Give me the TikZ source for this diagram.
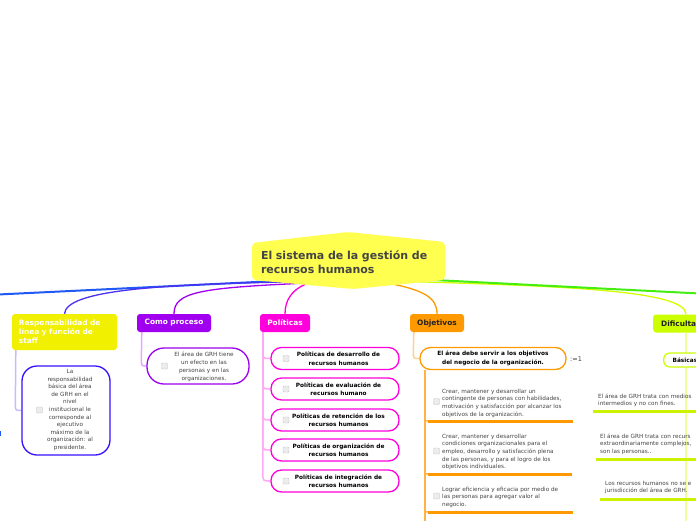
\documentclass[tikz,border=0pt]{standalone}
\usepackage{fontspec}
\setmainfont{DejaVu Sans}
\usetikzlibrary{calc}
\pgfdeclarelayer{back}
\pgfdeclarelayer{mid}
\pgfsetlayers{back,mid,main}
\definecolor{rootY}{HTML}{FFFF50}
\definecolor{rootT}{HTML}{444444}
\definecolor{txt}{HTML}{444444}
\definecolor{darkT}{HTML}{222222}
\definecolor{respY}{HTML}{F0F000}
\definecolor{respB}{HTML}{3A10FF}
\definecolor{respConn}{HTML}{C4BCFF}
\definecolor{blueL}{HTML}{2059F5}
\definecolor{bvL}{HTML}{4A30F0}
\definecolor{procP}{HTML}{A100F0}
\definecolor{procB}{HTML}{9C00EE}
\definecolor{procConn}{HTML}{E2AAFF}
\definecolor{polM}{HTML}{FF00DD}
\definecolor{polConn}{HTML}{FFAAF2}
\definecolor{objO}{HTML}{FF9900}
\definecolor{objConn}{HTML}{FFD090}
\definecolor{objV}{HTML}{FFB347}
\definecolor{difG}{HTML}{CCFF00}
\definecolor{difU}{HTML}{CCF200}
\definecolor{difConn}{HTML}{EEFF99}
\definecolor{greenL}{HTML}{44EE11}
\tikzset{
  lone/.style={rounded corners=3pt, inner sep=0pt, minimum height=18pt, font=\fontsize{7.4}{9}\selectfont\bfseries},
  pill/.style={draw, fill=white, line width=1.3pt, inner sep=0pt, minimum height=22pt, rounded corners=10.5pt},
  btext/.style={inner sep=0pt, align=center, font=\fontsize{5.8}{8.5}\selectfont\bfseries, text=black},
  stext/.style={inner sep=0pt, align=center, font=\fontsize{5.7}{8}\selectfont, text=txt},
  ltext/.style={inner sep=0pt, align=left, anchor=north west, font=\fontsize{5.7}{7.7}\selectfont, text=txt},
  chk/.style={draw=gray!45, fill=gray!15, rounded corners=1pt, minimum size=6pt, inner sep=0pt, line width=0.4pt},
  conn/.style={line width=1.3pt},
  uline/.style={line width=3pt},
}
\begin{document}
\begin{tikzpicture}[x=1pt,y=-1pt]
\useasboundingbox (0,0) rectangle (696,520);
\begin{scope}
\clip (0,0) rectangle (696,520);
% ---------- root
\node[font=\fontsize{11}{14}\selectfont\bfseries, text=rootT, align=left, text width=175pt, inner xsep=9pt, inner ysep=0pt, minimum height=37pt] (root) at (348.5,262) {El sistema de la gestión de\\recursos humanos};
% ---------- level one
\node[lone, fill=respY, text=white, minimum width=105pt, minimum height=36pt, text width=91pt, align=left] (resp) at (64.5,332) {Responsabilidad de\\línea y función de\\staff};
\node[lone, fill=procP, text=white, minimum width=74pt] (proc) at (174,323) {Como proceso};
\node[lone, fill=polM, text=white, minimum width=50pt] (pol) at (285,323) {Políticas};
\node[lone, fill=objO, text=darkT, minimum width=54pt] (obj) at (437,323) {Objetivos};
\node[lone, fill=difG, text=darkT, anchor=west, align=left, text width=74pt, inner xsep=8pt, minimum width=90pt] (dif) at (653,323.5) {Dificulta};
% ---------- responsabilidad child
\node[draw=respB, line width=1.3pt, fill=white, rounded corners=15pt, minimum width=88pt, minimum height=89pt, inner sep=0pt] (respc) at (66,410.5) {};
\node[stext, font=\fontsize{5.7}{7.6}\selectfont] (respct) at (70,410) {La\\responsabilidad\\básica del área\\de GRH en el\\nivel\\institucional le\\corresponde al\\ejecutivo\\máximo de la\\organización: al\\presidente.};
\node[chk] (respck) at (39.5,410) {};
% ---------- como proceso child
\node[draw=procB, line width=1.3pt, fill=white, rounded corners=17pt, minimum width=102pt, minimum height=36pt, inner sep=0pt] (procc) at (198,366) {};
\node[stext] (procct) at (204,366.5) {El área de GRH tiene\\un efecto en las\\personas y en las\\organizaciones.};
\node[chk] (procck) at (164.5,366) {};
% ---------- politicas children
\foreach \i/\cy/\t in {1/358.5/{Políticas de desarrollo de\\recursos humanos},
                       2/389/{Políticas de evaluación de\\recursos humano},
                       3/420/{Políticas de retención de los\\recursos humanos},
                       4/450/{Políticas de organización de\\recursos humanos},
                       5/481/{Políticas de integración de\\recursos humanos}}{
  \node[pill, draw=polM, minimum width=128pt] (p\i) at (335,\cy) {};
  \node[btext] (p\i t) at (338.5,\cy) {\t};
  \node[chk] (p\i c) at (286,\cy) {};
}
% ---------- objetivos
\node[pill, draw=objO, minimum width=146pt, btext] (obj1) at (493,358.5) {El área debe servir a los objetivos\\del negocio de la organización.};
\node[font=\fontsize{6.5}{8}\selectfont, text=txt, anchor=west, inner sep=0pt] (objlab) at (570,359) {:=1};
\node[ltext] (oi1) at (442,388.5) {Crear, mantener y desarrollar un\\contingente de personas con habilidades,\\motivación y satisfacción por alcanzar los\\objetivos de la organización.};
\node[chk] (oi1c) at (436.5,401.5) {};
\node[ltext] (oi2) at (442,433.5) {Crear, mantener y desarrollar\\condiciones organizacionales para el\\empleo, desarrollo y satisfacción plena\\de las personas, y para el logro de los\\objetivos individuales.};
\node[chk] (oi2c) at (436.5,451) {};
\node[ltext] (oi3) at (442,486.5) {Lograr eficiencia y eficacia por medio de\\las personas para agregar valor al\\negocio.};
\node[chk] (oi3c) at (436.5,496) {};
\coordinate (oi1u) at (428,421); \coordinate (oi1e) at (573,421);
\coordinate (oi2u) at (428,474); \coordinate (oi2e) at (572,474);
\coordinate (oi3u) at (428,512); \coordinate (oi3e) at (573,512);
\coordinate (ovtop) at (425,369.5); \coordinate (ovbot) at (425,525);
% ---------- dificultades
\node[pill, draw=difG, minimum height=14pt, rounded corners=6.5pt, anchor=west, align=left, text width=32pt, inner xsep=9pt, font=\fontsize{5.8}{8}\selectfont\bfseries, text=black] (bas) at (663,360) {Básicas};
\node[ltext] (di1) at (598,393.5) {El área de GRH trata con medios\\intermedios y no con fines.};
\node[ltext] (di2) at (600,433.5) {El área de GRH trata con recurs\\extraordinariamente complejos,\\son las personas..};
\node[ltext] (di3) at (605,480.5) {Los recursos humanos no se e\\jurisdicción del área de GRH.};
\coordinate (di1u) at (593,411); \coordinate (di1e) at (700,411);
\coordinate (di2u) at (596,459); \coordinate (di2e) at (700,459);
\coordinate (di3u) at (600,499); \coordinate (di3e) at (700,499);
\coordinate (dvtop) at (686,333); \coordinate (dvbot) at (686,525);
\coordinate (lefte) at (-2,294.5);
\coordinate (righte) at (700,293.5);
\coordinate (leftfrag) at (0,431); \coordinate (leftfrag2) at (0,436);
\end{scope}
% ---------- root shape
\begin{pgfonlayer}{mid}
\fill[rootY, rounded corners=4pt] (252,243) -- (348,232) -- (445,242) -- (445,280) -- (353,289) -- (252,280) -- cycle;
\end{pgfonlayer}
% ---------- connectors
\begin{pgfonlayer}{back}
\clip (0,0) rectangle (696,520);
\draw[blueL, line width=2pt] ($(root.south)+(-45,-1)$) -- (lefte);
\draw[bvL, conn] ($(root.south)+(-45,1)$) .. controls (160,284) and (66,290) .. (resp.north);
\draw[procP, conn] ($(root.south)+(-45,2.5)$) .. controls (200,288) and (174,292) .. (proc.north);
\draw[polM, conn] ($(root.south)+(-43,3.5)$) .. controls (292,290) and (285,300) .. (pol.north);
\draw[objO, conn] ($(root.south)+(37,2)$) .. controls (425,290) and (437,298) .. (obj.north);
\draw[difG!85!yellow, conn] ($(root.south)+(50,0.5)$) .. controls (560,286) and (686,290) .. ($(dif.north west)+(33,0)$);
\draw[greenL, line width=2pt] ($(root.south)+(70,-1.5)$) -- (righte);
\draw[blueL, line width=1.5pt] (leftfrag) -- (leftfrag2);
% responsabilidad
\draw[respConn, line width=1.5pt] ($(resp.south west)+(4,0)$) -- ($(respc.west)+(-6,-7)$) .. controls ($(respc.west)+(-6,0)$) .. (respc.west);
% como proceso
\draw[procConn, line width=1.5pt] ($(proc.south west)+(5,0)$) -- ($(procc.west)+(-5,-7)$) .. controls ($(procc.west)+(-5,0)$) .. (procc.west);
% politicas
\foreach \i in {1,...,5}{
  \draw[polConn, line width=1.5pt] ($(pol.south west)+(3,0)$) -- ($(pol.south west |- p\i.west)+(3,-8)$) .. controls ($(pol.south west |- p\i.west)+(3,0)$) .. (p\i.west);
}
% objetivos
\draw[objConn, line width=1.5pt] ($(obj.south west)+(4,0)$) -- ($(obj1.west)+(-6,-7)$) .. controls ($(obj1.west)+(-6,0)$) .. (obj1.west);
\draw[objV, line width=1.5pt] (ovtop) -- (ovbot);
\foreach \u in {oi1u,oi2u,oi3u}{
  \draw[objV, line width=1.5pt] ($(ovtop |- \u)+(0,-6)$) .. controls (ovtop |- \u) .. (\u);
}
% dificultades
\draw[difConn, line width=1.5pt] (dvtop) -- (dvbot);
\end{pgfonlayer}
% underlines
\draw[objO, uline] (oi1u) -- (oi1e);
\draw[objO, uline] (oi2u) -- (oi2e);
\draw[objO, uline] (oi3u) -- (oi3e);
\draw[difU, uline] (di1u) -- (di1e);
\draw[difU, uline] (di2u) -- (di2e);
\draw[difU, uline] (di3u) -- (di3e);
\end{tikzpicture}
\end{document}
